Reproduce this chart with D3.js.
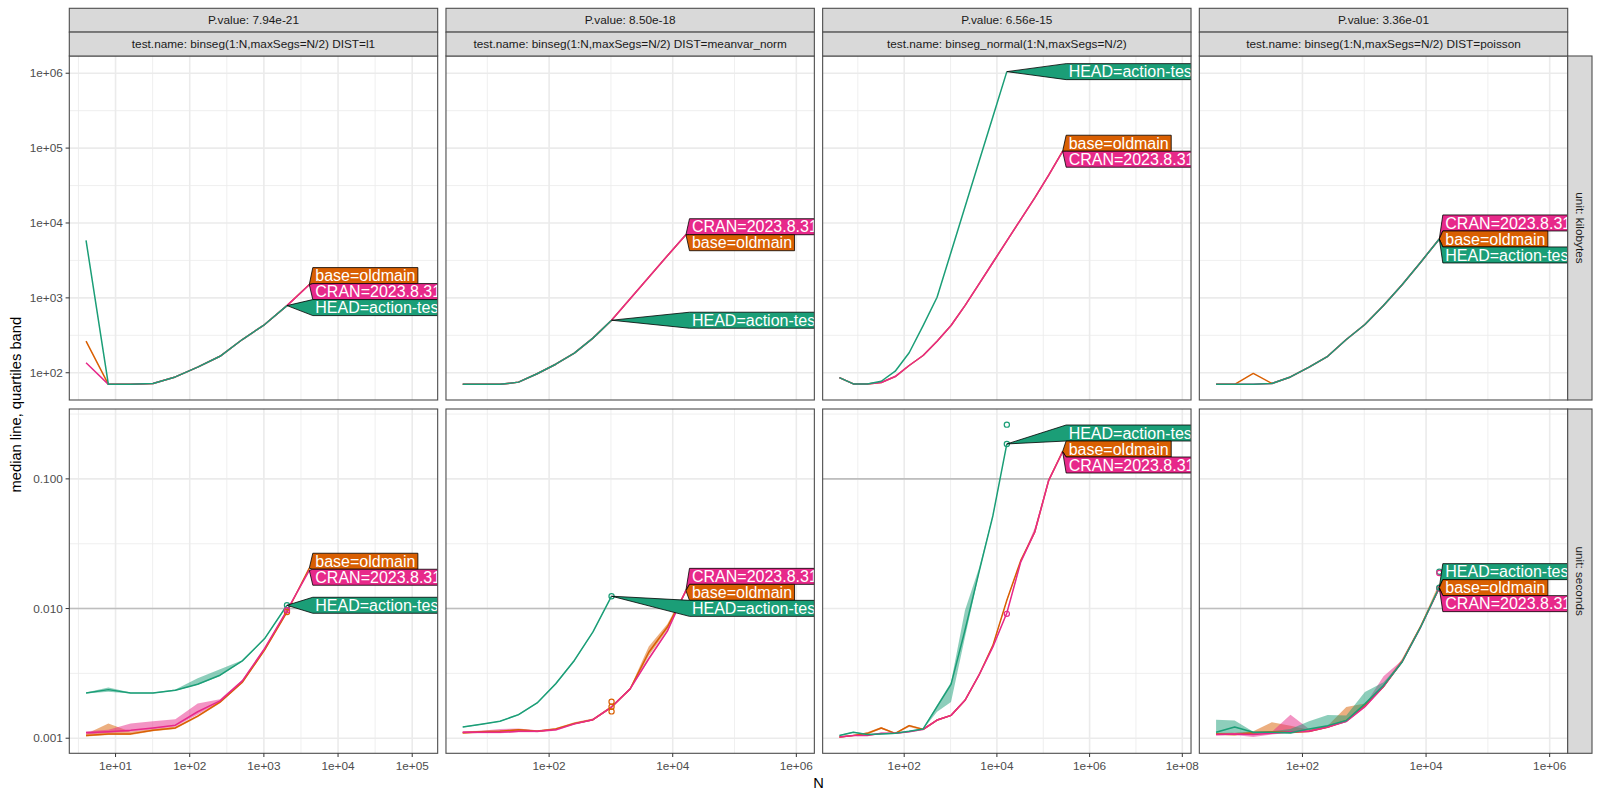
<!DOCTYPE html>
<html><head><meta charset="utf-8">
<script src="https://cdn.jsdelivr.net/npm/d3@7"></script>
<style>body{margin:0;background:#fff} text{font-family:"Liberation Sans",Arial,Helvetica,sans-serif}</style>
</head><body><svg id="c" width="1600" height="800"></svg>
<script>
// ---------------- DATA ----------------
const testNames = ["binseg(1:N,maxSegs=N/2) DIST=l1","binseg(1:N,maxSegs=N/2) DIST=meanvar_norm","binseg_normal(1:N,maxSegs=N/2)","binseg(1:N,maxSegs=N/2) DIST=poisson"];
const pValues = ["7.94e-21","8.50e-18","6.56e-15","3.36e-01"];
const units = ["kilobytes","seconds"];
const versions = ["base=oldmain","CRAN=2023.8.31","HEAD=action-test"];
const versionColors = ["#D95F02","#E7298A","#1B9E77"];
const Ngrid = [4,8,16,32,64,128,256,512,1024,2048,4096,8192,16384,32768,65536,131072,262144];
const secondsLimit = [0.01,0.01,0.1,0.01];

// panel 1: DIST=l1
const l1_kb_base = [265,70,70,72,88,119,166,278,441,789,1510];
const l1_kb_cran = [136,70,70,72,88,119,166,278,441,789,1500];
const l1_kb_head = [5860,70,70,72,88,119,166,278,441,789];
const l1_sec_base = [0.00105,0.00108,0.00108,0.00115,0.0012,0.00148,0.0019,0.0027,0.0048,0.0094,0.0205];
const l1_sec_base_lo = [0.00103,0.00106,0.00106,0.00113,0.00118,0.00145,0.00186,0.00265,0.0047,0.0093,0.0203];
const l1_sec_base_hi = [0.00108,0.0013,0.00112,0.00118,0.00123,0.0015,0.00194,0.00275,0.0049,0.0095,0.0207];
const l1_sec_cran = [0.0011,0.00112,0.00115,0.0012,0.00126,0.0016,0.00194,0.00277,0.00492,0.0097,0.0197];
const l1_sec_cran_lo = [0.00107,0.0011,0.00112,0.00117,0.00123,0.00152,0.0019,0.00272,0.00485,0.0096,0.0195];
const l1_sec_cran_hi = [0.00113,0.00116,0.0013,0.00135,0.0014,0.00185,0.002,0.00282,0.005,0.0098,0.0199];
const l1_sec_head = [0.00223,0.00237,0.00223,0.00223,0.00234,0.00261,0.00306,0.00395,0.00587,0.0106];
const l1_sec_head_lo = [0.00221,0.00228,0.00221,0.00221,0.00232,0.00258,0.00302,0.0039,0.0058,0.0105];
const l1_sec_head_hi = [0.00225,0.00246,0.00225,0.00225,0.00238,0.0029,0.0034,0.004,0.00595,0.0107];

// panel 2: DIST=meanvar_norm
const mv_kb_base = [70,70,70,75,97,130,183,290,503,973,1883,3643,6950];
const mv_kb_cran = [70,70,70,75,97,130,183,290,503,973,1883,3643,7000];
const mv_kb_head = [70,70,70,75,97,130,183,290,503];
const mv_sec_base = [0.0011,0.00112,0.00113,0.00116,0.00113,0.00118,0.0013,0.00139,0.00174,0.0024,0.0046,0.0072,0.0137];
const mv_sec_base_lo = [0.00108,0.0011,0.00111,0.00114,0.00111,0.00116,0.00128,0.00137,0.00171,0.00236,0.0043,0.0069,0.0135];
const mv_sec_base_hi = [0.00112,0.00114,0.00115,0.00118,0.00115,0.0012,0.00133,0.00142,0.00178,0.00245,0.0051,0.0076,0.0139];
const mv_sec_cran = [0.00111,0.00111,0.00111,0.00113,0.00113,0.00116,0.00129,0.00139,0.00174,0.0024,0.0041,0.0067,0.0139];
const mv_sec_cran_lo = [0.00109,0.00109,0.00109,0.00111,0.00111,0.00114,0.00127,0.00137,0.00171,0.00236,0.004,0.0066,0.0137];
const mv_sec_cran_hi = [0.00113,0.00114,0.00118,0.00119,0.00115,0.00118,0.00131,0.00141,0.00177,0.00244,0.0042,0.0069,0.0141];
const mv_sec_head = [0.00122,0.00128,0.00135,0.00152,0.00187,0.00263,0.00398,0.0066,0.01245];
const mv_sec_head_lo = [0.00121,0.00127,0.00134,0.0015,0.00185,0.00258,0.0039,0.00652,0.0124];
const mv_sec_head_hi = [0.00123,0.00129,0.00136,0.00154,0.00189,0.00268,0.00405,0.00668,0.0125];

// panel 3: binseg_normal
const nm_kb_base = [86,71,71,74,89,125,170,264,427,787,1530,2970,5760,11200,21700,43500,91000];
const nm_kb_cran = [86,71,71,74,89,125,170,264,427,787,1530,2970,5760,11200,21700,43500,90700];
const nm_kb_head = [86,71,71,77,105,185,427,1020,4070,16400,65600,262000,1050000];
const nm_sec_base = [0.00102,0.00105,0.00109,0.0012,0.00109,0.00125,0.00117,0.00138,0.0015,0.00196,0.00306,0.0052,0.0116,0.0235,0.0389,0.0975,0.163];
const nm_sec_base_lo = [0.00101,0.00104,0.00107,0.00118,0.00108,0.00122,0.00115,0.00136,0.00148,0.00193,0.00302,0.0051,0.0114,0.0232,0.0385,0.0965,0.162];
const nm_sec_base_hi = [0.00103,0.00106,0.00111,0.00122,0.0011,0.00127,0.00119,0.0014,0.00152,0.00199,0.0031,0.0053,0.0118,0.0238,0.0393,0.0985,0.164];
const nm_sec_cran = [0.00102,0.00105,0.00105,0.00109,0.00109,0.00112,0.00117,0.00138,0.0015,0.00196,0.00306,0.00506,0.00925,0.0229,0.0389,0.0975,0.162];
const nm_sec_cran_lo = [0.00101,0.00104,0.00104,0.00108,0.00108,0.00111,0.00115,0.00136,0.00148,0.00193,0.00302,0.005,0.0091,0.0226,0.0385,0.0965,0.161];
const nm_sec_cran_hi = [0.00103,0.00106,0.00106,0.0011,0.0011,0.00113,0.00119,0.0014,0.00152,0.00199,0.0031,0.0051,0.0094,0.0232,0.042,0.0985,0.163];
const nm_sec_head = [0.00105,0.00111,0.00107,0.00108,0.00109,0.00113,0.00118,0.00175,0.0026,0.0068,0.019,0.052,0.186];
const nm_sec_head_lo = [0.00104,0.0011,0.00106,0.00107,0.00108,0.00112,0.00117,0.0016,0.0019,0.006,0.0185,0.051,0.185];
const nm_sec_head_hi = [0.00106,0.00112,0.00108,0.00109,0.0011,0.00114,0.00119,0.0018,0.0027,0.0097,0.0205,0.053,0.187];

// panel 4: DIST=poisson
const ps_kb_base = [70,70,98,72,88,119,166,278,441,789,1500,3000,6120];
const ps_kb_cran = [70,70,70,72,88,119,166,278,441,789,1500,3000,6130];
const ps_kb_head = [70,70,70,72,88,119,166,278,441,789,1500,3000,6110];
const ps_sec_base = [0.00108,0.00107,0.0011,0.00112,0.00111,0.00113,0.00122,0.00137,0.0018,0.0025,0.0039,0.0073,0.0145];
const ps_sec_base_lo = [0.00106,0.00105,0.00108,0.0011,0.00109,0.00111,0.0012,0.00134,0.00176,0.00246,0.00385,0.0072,0.0143];
const ps_sec_base_hi = [0.0011,0.0011,0.00113,0.00133,0.00125,0.00116,0.00125,0.00174,0.00185,0.0026,0.0041,0.0075,0.0158];
const ps_sec_cran = [0.00107,0.00108,0.00107,0.00109,0.00112,0.00113,0.00122,0.00135,0.00175,0.0025,0.0039,0.0072,0.0144];
const ps_sec_cran_lo = [0.00105,0.00106,0.00102,0.00107,0.0011,0.00111,0.0012,0.00133,0.00172,0.00245,0.00385,0.0071,0.0142];
const ps_sec_cran_hi = [0.00109,0.0011,0.0011,0.00112,0.00152,0.00118,0.00125,0.00138,0.0018,0.003,0.004,0.0074,0.0146];
const ps_sec_head = [0.00111,0.00122,0.00111,0.00111,0.0011,0.00118,0.00125,0.00137,0.00184,0.00255,0.00387,0.00721,0.0146];
const ps_sec_head_lo = [0.00107,0.0011,0.00108,0.00109,0.00108,0.00116,0.00122,0.00133,0.00178,0.0025,0.0038,0.0071,0.0144];
const ps_sec_head_hi = [0.00139,0.00137,0.00112,0.00113,0.00118,0.00135,0.00151,0.0015,0.00227,0.0027,0.0039,0.0073,0.0148];

// individual timings shown as points
const ptPanel = [0,0,0, 1,1,1,1, 2,2,2, 3,3,3,3];
const ptVersion = [2,0,1, 2,0,0,0, 2,2,1, 2,1,1,2];
const ptN = [2048,2048,2048, 1024,1024,1024,1024, 16384,16384,16384, 16384,16384,16384,16384];
const ptSeconds = [0.0106,0.0094,0.0097, 0.01245,0.00191,0.00175,0.00161, 0.186,0.262,0.0091, 0.0192,0.0188,0.0143,0.0145];

// -------------- build series table --------------
const seriesTable = [
  {panel:0,ver:0,kb:l1_kb_base,sec:l1_sec_base,lo:l1_sec_base_lo,hi:l1_sec_base_hi},
  {panel:0,ver:1,kb:l1_kb_cran,sec:l1_sec_cran,lo:l1_sec_cran_lo,hi:l1_sec_cran_hi},
  {panel:0,ver:2,kb:l1_kb_head,sec:l1_sec_head,lo:l1_sec_head_lo,hi:l1_sec_head_hi},
  {panel:1,ver:0,kb:mv_kb_base,sec:mv_sec_base,lo:mv_sec_base_lo,hi:mv_sec_base_hi},
  {panel:1,ver:1,kb:mv_kb_cran,sec:mv_sec_cran,lo:mv_sec_cran_lo,hi:mv_sec_cran_hi},
  {panel:1,ver:2,kb:mv_kb_head,sec:mv_sec_head,lo:mv_sec_head_lo,hi:mv_sec_head_hi},
  {panel:2,ver:0,kb:nm_kb_base,sec:nm_sec_base,lo:nm_sec_base_lo,hi:nm_sec_base_hi},
  {panel:2,ver:1,kb:nm_kb_cran,sec:nm_sec_cran,lo:nm_sec_cran_lo,hi:nm_sec_cran_hi},
  {panel:2,ver:2,kb:nm_kb_head,sec:nm_sec_head,lo:nm_sec_head_lo,hi:nm_sec_head_hi},
  {panel:3,ver:0,kb:ps_kb_base,sec:ps_sec_base,lo:ps_sec_base_lo,hi:ps_sec_base_hi},
  {panel:3,ver:1,kb:ps_kb_cran,sec:ps_sec_cran,lo:ps_sec_cran_lo,hi:ps_sec_cran_hi},
  {panel:3,ver:2,kb:ps_kb_head,sec:ps_sec_head,lo:ps_sec_head_lo,hi:ps_sec_head_hi}
];
function rowsOf(s, row){
  const arr = row===0 ? s.kb : s.sec;
  return arr.map((v,i)=>({N:Ngrid[i], med:v, lo: row===0?v:s.lo[i], hi: row===0?v:s.hi[i]}));
}
const points = ptN.map((n,i)=>({panel:ptPanel[i],ver:ptVersion[i],N:n,val:ptSeconds[i]}));

// -------------- layout --------------
const svg = d3.select("#c");
const plotL = 69.3, plotR = 1567.7, gapX = 8.3;
const panelW = (plotR-plotL-gapX*3)/4;
const rowTop = [56, 409], rowBot = [400, 753.3];
const stripTop = 8.3, stripMid = 32.1;
const rStripW = 24.3;
const grid = "#EBEBEB", border = "#4D4D4D";
const fmtExp = e => "1e" + (e<0?"-":"+") + String(Math.abs(e)).padStart(2,"0");
const fmtSec = d3.format(".3f");

// x scales
const xScales = testNames.map((_,p)=>{
  const ser = seriesTable.filter(s=>s.panel===p);
  const ns = ser.flatMap(s=>Ngrid.slice(0,s.kb.length));
  const lmin = Math.log10(d3.min(ns)), lmax = Math.log10(d3.max(ns));
  const ext = lmax + 0.5*(lmax-lmin);
  const e = 0.05*(ext-lmin);
  const left = plotL + p*(panelW+gapX);
  return d3.scaleLog().domain([10**(lmin-e), 10**(ext+e)]).range([left, left+panelW]);
});
// y scales
const yScales = [0,1].map(row=>{
  let vals = seriesTable.flatMap(s=>rowsOf(s,row).flatMap(d=>[d.lo,d.hi,d.med]));
  if(row===1) vals = vals.concat(points.map(d=>d.val));
  const a = Math.log10(d3.min(vals)), b = Math.log10(d3.max(vals));
  const e = 0.05*(b-a);
  return d3.scaleLog().domain([10**(a-e),10**(b+e)]).range([rowBot[row], rowTop[row]]);
});

function majorsMinors(scale){
  const [d0,d1] = scale.domain().map(Math.log10);
  let maj = d3.range(Math.ceil(d0), Math.floor(d1)+1);
  if(maj.length>5) maj = maj.filter(e=>e%2===0);
  const step = maj.length>1 ? maj[1]-maj[0] : 1;
  const mins = [];
  for(let m = maj[0]-step/2; m<=d1; m+=step) if(m>=d0) mins.push(m);
  return {maj, mins};
}

// clip paths
const defs = svg.append("defs");
for(let p=0;p<4;p++) for(let r=0;r<2;r++){
  const [x0,x1] = xScales[p].range();
  defs.append("clipPath").attr("id",`cp${p}_${r}`).append("rect")
    .attr("x",x0).attr("y",rowTop[r]).attr("width",x1-x0).attr("height",rowBot[r]-rowTop[r]);
}

function pav(a){
  const blocks=[];
  for(const v of a){
    blocks.push({s:v,n:1});
    while(blocks.length>1){
      const b=blocks[blocks.length-1], c=blocks[blocks.length-2];
      if(c.s/c.n > b.s/b.n){c.s+=b.s;c.n+=b.n;blocks.pop();} else break;
    }
  }
  const out=[]; for(const b of blocks) for(let i=0;i<b.n;i++) out.push(b.s/b.n);
  return out;
}

for(let p=0;p<4;p++){
  const x = xScales[p];
  const [x0,x1] = x.range();
  const xm = majorsMinors(x);
  for(let r=0;r<2;r++){
    const y = yScales[r];
    const g = svg.append("g");
    g.append("rect").attr("x",x0).attr("y",rowTop[r]).attr("width",x1-x0).attr("height",rowBot[r]-rowTop[r]).attr("fill","#fff");
    const ym = majorsMinors(y);
    // minor grid
    xm.mins.forEach(m=>g.append("line").attr("x1",x(10**m)).attr("x2",x(10**m)).attr("y1",rowTop[r]).attr("y2",rowBot[r]).attr("stroke",grid).attr("stroke-width",0.8));
    ym.mins.forEach(m=>g.append("line").attr("x1",x0).attr("x2",x1).attr("y1",y(10**m)).attr("y2",y(10**m)).attr("stroke",grid).attr("stroke-width",0.8));
    xm.maj.forEach(m=>g.append("line").attr("x1",x(10**m)).attr("x2",x(10**m)).attr("y1",rowTop[r]).attr("y2",rowBot[r]).attr("stroke",grid).attr("stroke-width",1.6));
    ym.maj.forEach(m=>g.append("line").attr("x1",x0).attr("x2",x1).attr("y1",y(10**m)).attr("y2",y(10**m)).attr("stroke",grid).attr("stroke-width",1.6));
    if(r===1){
      g.append("line").attr("x1",x0).attr("x2",x1).attr("y1",y(secondsLimit[p])).attr("y2",y(secondsLimit[p])).attr("stroke","#BEBEBE").attr("stroke-width",1.6);
    }
    const dg = g.append("g").attr("clip-path",`url(#cp${p}_${r})`);
    const ser = seriesTable.filter(s=>s.panel===p);
    // ribbons
    ser.forEach(s=>{
      const rows = rowsOf(s,r);
      dg.append("path").datum(rows)
        .attr("d", d3.area().x(d=>x(d.N)).y0(d=>y(d.lo)).y1(d=>y(d.hi)))
        .attr("fill", versionColors[s.ver]).attr("fill-opacity",0.5).attr("stroke","none");
    });
    // lines
    ser.forEach(s=>{
      dg.append("path").datum(rowsOf(s,r))
        .attr("d", d3.line().x(d=>x(d.N)).y(d=>y(d.med)))
        .attr("fill","none").attr("stroke",versionColors[s.ver]).attr("stroke-width",1.5).attr("stroke-linejoin","round");
    });
    // points
    if(r===1){
      points.filter(d=>d.panel===p).forEach(d=>{
        dg.append("circle").attr("cx",x(d.N)).attr("cy",y(d.val)).attr("r",2.6)
          .attr("fill","none").attr("stroke",versionColors[d.ver]).attr("stroke-width",1.2);
      });
    }
    // direct labels
    const labs = ser.map(s=>{
      const rows = rowsOf(s,r); const last = rows[rows.length-1];
      return {ver:s.ver, tx:x(last.N), ty:y(last.med)};
    });
    const L = d3.max(labs,d=>d.tx) + 3.5;
    const h = 16;
    labs.sort((a,b)=>a.ty-b.ty);
    const u = pav(labs.map((d,i)=>d.ty - i*h));
    labs.forEach((d,i)=>{ d.cy = u[i] + i*h; });
    labs.forEach(d=>{
      const lg = dg.append("g");
      const t = lg.append("text").attr("x",L+2.5).attr("y",d.cy).attr("dy","0.35em")
        .attr("font-size",16).attr("fill","#fff").text(versions[d.ver]);
      const w = t.node().getComputedTextLength() + 5;
      const top = d.cy - h/2, bot = d.cy + h/2;
      lg.insert("path","text").attr("d",`M${d.tx},${d.ty}L${L},${top}L${L+w},${top}L${L+w},${bot}L${L},${bot}Z`)
        .attr("fill",versionColors[d.ver]).attr("stroke","#000").attr("stroke-width",0.8).attr("stroke-linejoin","miter");
    });
    // border
    g.append("rect").attr("x",x0).attr("y",rowTop[r]).attr("width",x1-x0).attr("height",rowBot[r]-rowTop[r])
      .attr("fill","none").attr("stroke",border).attr("stroke-width",1.1);
    // y axis (first column)
    if(p===0){
      ym.maj.forEach(m=>{
        const yy = y(10**m);
        svg.append("line").attr("x1",x0-3.7).attr("x2",x0).attr("y1",yy).attr("y2",yy).attr("stroke","#333").attr("stroke-width",1);
        svg.append("text").attr("x",x0-6.5).attr("y",yy).attr("dy","0.35em").attr("text-anchor","end")
          .attr("font-size",11.8).attr("fill","#4D4D4D").text(r===0?fmtExp(m):fmtSec(10**m));
      });
    }
    // x axis (bottom row)
    if(r===1){
      xm.maj.forEach(m=>{
        const xx = x(10**m);
        svg.append("line").attr("x1",xx).attr("x2",xx).attr("y1",rowBot[1]).attr("y2",rowBot[1]+3.7).attr("stroke","#333").attr("stroke-width",1);
        svg.append("text").attr("x",xx).attr("y",rowBot[1]+16.8).attr("text-anchor","middle")
          .attr("font-size",11.8).attr("fill","#4D4D4D").text(fmtExp(m));
      });
    }
  }
  // top strips
  [[stripTop,stripMid,"P.value: "+pValues[p]],[stripMid,rowTop[0],"test.name: "+testNames[p]]].forEach(([a,b,txt])=>{
    svg.append("rect").attr("x",x0).attr("y",a).attr("width",x1-x0).attr("height",b-a)
      .attr("fill","#D9D9D9").attr("stroke",border).attr("stroke-width",1.1);
    svg.append("text").attr("x",(x0+x1)/2).attr("y",(a+b)/2).attr("dy","0.35em").attr("text-anchor","middle")
      .attr("font-size",11.8).attr("fill","#1A1A1A").text(txt);
  });
}
// right strips
units.forEach((u,r)=>{
  svg.append("rect").attr("x",plotR).attr("y",rowTop[r]).attr("width",rStripW).attr("height",rowBot[r]-rowTop[r])
    .attr("fill","#D9D9D9").attr("stroke",border).attr("stroke-width",1.1);
  const cx = plotR + rStripW/2, cy = (rowTop[r]+rowBot[r])/2;
  svg.append("text").attr("transform",`translate(${cx},${cy}) rotate(90)`).attr("dy","0.35em").attr("text-anchor","middle")
    .attr("font-size",11.8).attr("fill","#1A1A1A").text("unit: "+u);
});
// axis titles
svg.append("text").attr("transform",`translate(16,${(rowTop[0]+rowBot[1])/2}) rotate(-90)`).attr("dy","0.35em").attr("text-anchor","middle")
  .attr("font-size",14.7).attr("fill","#000").text("median line, quartiles band");
svg.append("text").attr("x",(plotL+plotR)/2).attr("y",788).attr("text-anchor","middle")
  .attr("font-size",14.7).attr("fill","#000").text("N");
</script></body></html>
